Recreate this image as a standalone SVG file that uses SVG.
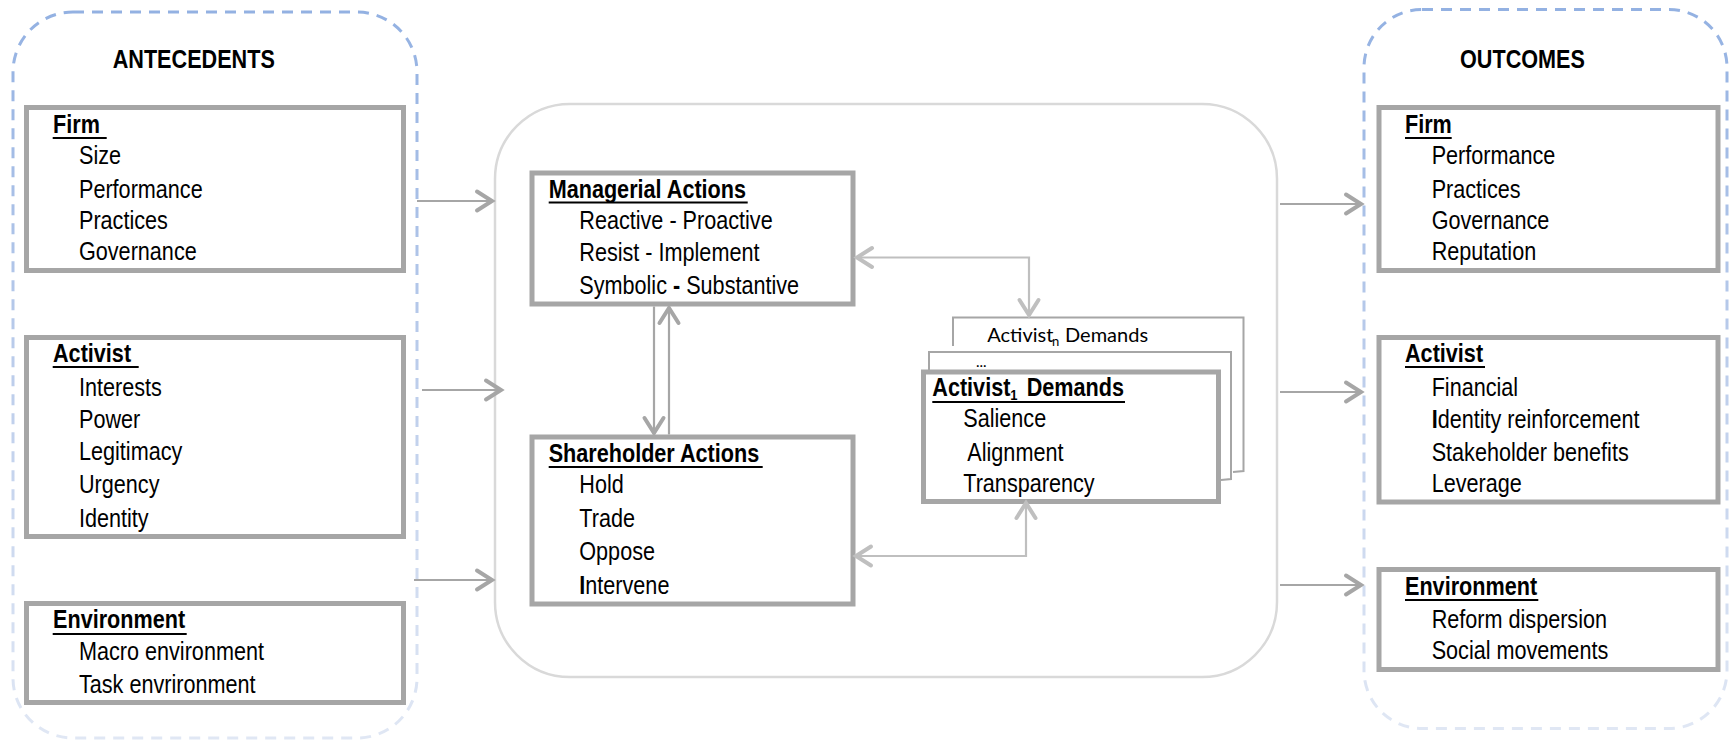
<svg xmlns="http://www.w3.org/2000/svg" width="1730" height="743" viewBox="0 0 1730 743">
<style>
.t{font-family:"Liberation Sans",Arial,sans-serif;font-size:25px;fill:#000}
.b{font-weight:bold}
.c{font-family:Lato,"Open Sans",sans-serif;fill:#000}
.box{fill:#fff;stroke:#a6a6a6;stroke-width:5}
.thin{fill:none;stroke:#a6a6a6;stroke-width:2}
.ul{stroke:#000;stroke-width:2.2}
.grp{fill:none;stroke:url(#dash);stroke-width:3;stroke-dasharray:11 8}
.conn{fill:none;stroke:#a6a6a6;stroke-width:2.2}
.conn2{fill:none;stroke:#bfbfbf;stroke-width:2.2}
</style>
<defs>
<linearGradient id="dash" x1="0" y1="0" x2="0" y2="1">
<stop offset="0" stop-color="#93b1e2"/>
<stop offset="0.5" stop-color="#bccdeb"/>
<stop offset="1" stop-color="#e0e7f4"/>
</linearGradient>
<marker id="arr" markerUnits="userSpaceOnUse" markerWidth="30" markerHeight="30" viewBox="-20 -15 30 30" refX="0" refY="0" orient="auto-start-reverse" overflow="visible">
<path d="M-15,-9.5 L0,0 L-15,9.5" fill="none" stroke="#a6a6a6" stroke-width="4" stroke-linecap="round"/>
</marker>
<marker id="arr2" markerUnits="userSpaceOnUse" markerWidth="30" markerHeight="30" viewBox="-20 -15 30 30" refX="0" refY="0" orient="auto-start-reverse" overflow="visible">
<path d="M-15,-9.5 L0,0 L-15,9.5" fill="none" stroke="#bfbfbf" stroke-width="4" stroke-linecap="round"/>
</marker>
</defs>
<rect width="1730" height="743" fill="#fff"/>

<g id="antecedents">
<rect class="grp" x="13" y="12" width="404" height="726" rx="60"/>
<g transform="scale(0.865 1)"><text class="t b" x="130.3" y="68">ANTECEDENTS</text></g>
</g>
<g id="outcomes">
<rect class="grp" x="1364" y="9.5" width="363" height="719" rx="58"/>
<g transform="scale(0.865 1)"><text class="t b" x="1687.9" y="68">OUTCOMES</text></g>
</g>
<g id="process">
<rect x="495" y="104" width="782" height="573" rx="75" fill="none" stroke="#d9d9d9" stroke-width="2.5"/>
</g>

<g id="ante-firm">
<rect class="box" x="26.5" y="107.5" width="377" height="163"/>
<line class="ul" x1="52.7" y1="138" x2="106.7" y2="138"/>
<g transform="scale(0.865 1)">
<text class="t b" x="61.3" y="133">Firm</text>
<text class="t" x="91.3" y="164">Size</text>
<text class="t" x="91.3" y="198">Performance</text>
<text class="t" x="91.3" y="229">Practices</text>
<text class="t" x="91.3" y="260">Governance</text>
</g>
</g>
<g id="ante-activist">
<rect class="box" x="26.5" y="337.5" width="377" height="199"/>
<line class="ul" x1="52.7" y1="367" x2="138.7" y2="367"/>
<g transform="scale(0.865 1)">
<text class="t b" x="61.3" y="362">Activist</text>
<text class="t" x="91.3" y="396">Interests</text>
<text class="t" x="91.3" y="428">Power</text>
<text class="t" x="91.3" y="460">Legitimacy</text>
<text class="t" x="91.3" y="493">Urgency</text>
<text class="t" x="91.3" y="527">Identity</text>
</g>
</g>
<g id="ante-environment">
<rect class="box" x="26.5" y="603.5" width="377" height="99"/>
<line class="ul" x1="52.7" y1="634" x2="186.7" y2="634"/>
<g transform="scale(0.865 1)">
<text class="t b" x="61.3" y="628">Environment</text>
<text class="t" x="91.3" y="660">Macro environment</text>
<text class="t" x="91.3" y="693">Task envrironment</text>
</g>
</g>

<g id="managerial">
<rect class="box" x="532" y="173" width="321" height="131"/>
<line class="ul" x1="548.7" y1="202.5" x2="747.7" y2="202.5"/>
<g transform="scale(0.865 1)">
<text class="t b" x="634.3" y="198">Managerial Actions</text>
<text class="t" x="669.7" y="229">Reactive - Proactive</text>
<text class="t" x="669.7" y="261">Resist - Implement</text>
<text class="t" x="669.7" y="294">Symbolic <tspan class="b">-</tspan> Substantive</text>
</g>
</g>
<g id="shareholder">
<rect class="box" x="532" y="437" width="321" height="167"/>
<line class="ul" x1="548.7" y1="467" x2="762.7" y2="467"/>
<g transform="scale(0.865 1)">
<text class="t b" x="634.3" y="462">Shareholder Actions</text>
<text class="t" x="669.7" y="493">Hold</text>
<text class="t" x="669.7" y="527">Trade</text>
<text class="t" x="669.7" y="560">Oppose</text>
<text class="t" x="669.7" y="594"><tspan class="b">I</tspan>ntervene</text>
</g>
</g>

<g id="demands-n">
<path class="thin" d="M953,346 L953,317.5 L1243.5,317.5 L1243.5,471 L1233,472"/>
<text class="c" x="987.3" y="342" font-size="20">Activist</text>
<text class="c" x="1052" y="346" font-size="13">n</text>
<text class="c" x="1065" y="342" font-size="20">Demands</text>
</g>
<g id="demands-mid">
<path class="thin" d="M929,370 L929,352 L1231,352 L1231,479 L1221,480"/>
<text class="c" x="976" y="367" font-size="15">...</text>
</g>
<g id="demands-1">
<rect class="box" x="923.5" y="372" width="295" height="129.5"/>
<line class="ul" x1="932.3" y1="402" x2="1125" y2="402"/>
<g transform="scale(0.865 1)">
<text class="t b" x="1077.8" y="396">Activist<tspan font-size="15" dy="4">1</tspan><tspan x="1187" dy="-4">Demands</tspan></text>
<text class="t" x="1113.6" y="427">Salience</text>
<text class="t" x="1118.3" y="461.5">Alignment</text>
<text class="t" x="1113.6" y="492">Transparency</text>
</g>
</g>

<g id="out-firm">
<rect class="box" x="1379" y="107.5" width="339" height="163"/>
<line class="ul" x1="1405" y1="138" x2="1451.7" y2="138"/>
<g transform="scale(0.865 1)">
<text class="t b" x="1624.3" y="133">Firm</text>
<text class="t" x="1655.1" y="164">Performance</text>
<text class="t" x="1655.1" y="198">Practices</text>
<text class="t" x="1655.1" y="229">Governance</text>
<text class="t" x="1655.1" y="260">Reputation</text>
</g>
</g>
<g id="out-activist">
<rect class="box" x="1379" y="337.5" width="339" height="164.5"/>
<line class="ul" x1="1405" y1="367" x2="1485" y2="367"/>
<g transform="scale(0.865 1)">
<text class="t b" x="1624.3" y="362">Activist</text>
<text class="t" x="1655.1" y="396">Financial</text>
<text class="t" x="1655.1" y="428"><tspan class="b">I</tspan>dentity reinforcement</text>
<text class="t" x="1655.1" y="461">Stakeholder benefits</text>
<text class="t" x="1655.1" y="492">Leverage</text>
</g>
</g>
<g id="out-environment">
<rect class="box" x="1379" y="569.5" width="339" height="100"/>
<line class="ul" x1="1405" y1="600" x2="1538.3" y2="600"/>
<g transform="scale(0.865 1)">
<text class="t b" x="1624.3" y="595">Environment</text>
<text class="t" x="1655.1" y="628">Reform dispersion</text>
<text class="t" x="1655.1" y="659">Social movements</text>
</g>
</g>

<g id="connectors">
<path class="conn" d="M417,201 L492,201" marker-end="url(#arr)"/>
<path class="conn" d="M422,390 L501,390" marker-end="url(#arr)"/>
<path class="conn" d="M414,580 L492,580" marker-end="url(#arr)"/>
<path class="conn" d="M1280,204 L1361,204" marker-end="url(#arr)"/>
<path class="conn" d="M1280,392 L1361,392" marker-end="url(#arr)"/>
<path class="conn" d="M1280,585 L1361,585" marker-end="url(#arr)"/>
<path class="conn" d="M654,306.5 L654,433" marker-end="url(#arr)"/>
<path class="conn" d="M669,434.5 L669,308" marker-end="url(#arr)"/>
<path class="conn2" d="M857,257.5 L1029,257.5 L1029,315" marker-start="url(#arr2)" marker-end="url(#arr2)"/>
<path class="conn2" d="M856,556 L1026,556 L1026,503" marker-start="url(#arr2)" marker-end="url(#arr2)"/>
</g>
</svg>
